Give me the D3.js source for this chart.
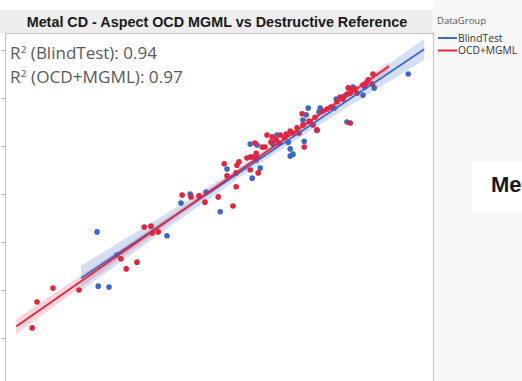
<!DOCTYPE html>
<html>
<head>
<meta charset="utf-8">
<script src="https://cdn.jsdelivr.net/npm/d3@7"></script>
<style>
  html, body { margin: 0; padding: 0; background: #ffffff; }
  svg { display: block; }
</style>
</head>
<body>
<div id="chart"></div>
<script>
// Metal CD: OCD MGML prediction (x) against destructive reference (y), nm
const groups = ["BlindTest", "OCD+MGML"];
const groupColors = ["#3b68c8", "#e2253f"];
const rSquared = ["0.94", "0.97"];
const yTicks = [19, 20, 21, 22, 23, 24, 25, 26];

const blindX = [22.30, 22.33, 22.60, 22.80, 24.05, 24.40, 24.63, 25.03, 25.38, 25.55,
  26.18, 26.13, 26.30, 26.13, 26.30, 26.70, 26.80, 27.08, 27.13, 27.20,
  27.13, 27.48, 27.45, 27.58, 27.53, 27.80, 27.85, 27.88, 28.23, 28.28,
  28.48, 28.55, 28.70, 28.95, 29.00, 29.23, 30.08, 26.38];
const blindY = [22.21, 21.08, 21.06, 21.73, 22.13, 22.81, 23.00, 23.04, 22.63, 23.52,
  23.33, 23.77, 23.77, 24.04, 24.02, 24.04, 24.23, 24.08, 23.94, 23.83,
  23.79, 24.10, 24.54, 24.79, 24.65, 24.33, 24.71, 24.79, 24.79, 24.98,
  25.04, 24.50, 25.23, 25.06, 25.23, 25.21, 25.50, 23.54];

const ocdX = [20.68, 20.80, 21.20, 21.85, 22.90, 23.03, 23.30, 23.48, 23.65, 23.68,
  23.83, 24.43, 24.65, 24.85, 25.00, 25.33, 25.70, 25.48, 25.80, 25.85,
  25.78, 25.78, 26.05, 26.13, 26.28, 26.33, 26.28, 26.50, 26.25, 26.55,
  26.43, 26.65, 26.78, 26.85, 26.88, 26.68, 26.98, 27.03, 27.13, 27.20,
  27.30, 27.35, 27.45, 27.48, 27.43, 27.60, 27.70, 27.75, 27.80, 27.95,
  28.05, 28.15, 28.30, 28.45, 28.55, 28.63, 28.58, 28.63, 28.68, 28.75,
  28.80, 28.95, 29.03, 29.08, 29.20, 29.18, 28.38, 27.63, 25.55, 26.18];
const ocdY = [20.21, 20.75, 21.04, 21.00, 21.65, 21.44, 21.58, 22.31, 22.33, 22.19,
  22.21, 22.98, 22.94, 22.96, 22.83, 22.94, 22.75, 23.63, 23.60, 23.67,
  23.44, 23.15, 23.75, 23.50, 23.71, 23.44, 23.85, 23.98, 24.06, 24.23,
  23.98, 24.08, 24.13, 24.06, 24.23, 24.19, 24.17, 24.25, 24.31, 24.27,
  24.38, 24.27, 24.44, 23.98, 24.67, 24.52, 24.44, 24.60, 24.33, 24.73,
  24.77, 24.81, 24.92, 24.98, 25.08, 24.48, 25.21, 25.10, 25.17, 25.19,
  25.10, 25.27, 25.31, 25.38, 25.50, 25.29, 25.02, 24.50, 23.38, 23.77];

const seriesX = [blindX, ocdX];
const seriesY = [blindY, ocdY];

const W = 522, H = 381;
const frame = { left: 5, top: 33, right: 433, bottom: 410 };

const svg = d3.select("#chart").append("svg")
  .attr("width", W).attr("height", H)
  .attr("viewBox", `0 0 ${W} ${H}`);

// Page backgrounds: legend side panel and title strip
svg.append("rect").attr("x", 434).attr("y", 0).attr("width", W - 434).attr("height", H)
  .attr("fill", "#f7f7f7");
svg.append("rect").attr("x", 0).attr("y", 10).attr("width", 433).attr("height", 23)
  .attr("fill", "#ededed");

const x = d3.scaleLinear().domain([20, 30.7]).range([frame.left, frame.right]);
const y = d3.scaleLinear().domain([18.5, 26.5]).range([frame.bottom, frame.bottom - 8 * 48]);

// Plot frame
svg.append("rect")
  .attr("x", frame.left + 0.5).attr("y", frame.top + 0.5)
  .attr("width", frame.right - frame.left).attr("height", frame.bottom - frame.top)
  .attr("fill", "#ffffff").attr("stroke", "#c4c4c4");

svg.append("clipPath").attr("id", "plotClip")
  .append("rect").attr("x", frame.left + 1).attr("y", frame.top + 1)
  .attr("width", frame.right - frame.left - 1).attr("height", frame.bottom - frame.top);

// Y axis tick marks (the tick labels sit beyond the page's left edge)
const yAxis = svg.append("g")
  .attr("transform", `translate(${frame.left + 0.5},0)`)
  .call(d3.axisLeft(y).tickValues(yTicks).tickSize(4).tickFormat(""));
yAxis.select(".domain").remove();
yAxis.selectAll(".tick line").attr("stroke", "#b0b0b0");

const plot = svg.append("g").attr("clip-path", "url(#plotClip)");

// Least-squares fit with 95% confidence band of the mean
function tQuantile(df) { return 1.96 + 2.4 / df + 2.9 / (df * df); }
function fitLine(xs, ys) {
  const n = xs.length;
  const mx = d3.mean(xs), my = d3.mean(ys);
  let sxx = 0, sxy = 0;
  for (let i = 0; i < n; i++) { sxx += (xs[i] - mx) ** 2; sxy += (xs[i] - mx) * (ys[i] - my); }
  const b = sxy / sxx, a = my - b * mx;
  let sse = 0;
  for (let i = 0; i < n; i++) sse += (ys[i] - (a + b * xs[i])) ** 2;
  const s = Math.sqrt(sse / (n - 2));
  const t = tQuantile(n - 2);
  const ext = 0.4;
  const x0 = d3.min(xs) - ext, x1 = d3.max(xs) + ext;
  return d3.range(0, 41).map(i => {
    const xv = x0 + (x1 - x0) * i / 40;
    const fit = a + b * xv;
    const hw = t * s * Math.sqrt(1 / n + (xv - mx) ** 2 / sxx);
    return { x: xv, y: fit, lo: fit - hw, hi: fit + hw };
  });
}

const fits = groups.map((g, i) => fitLine(seriesX[i], seriesY[i]));
const bandFill = ["rgba(90,130,210,0.26)", "rgba(232,70,95,0.22)"];

fits.forEach((pts, i) => {
  plot.append("path")
    .datum(pts)
    .attr("fill", bandFill[i])
    .attr("d", d3.area().x(d => x(d.x)).y0(d => y(d.lo)).y1(d => y(d.hi)));
});

// Points: BlindTest first, OCD+MGML drawn over it
groups.forEach((g, i) => {
  plot.append("g").selectAll("circle")
    .data(d3.range(seriesX[i].length))
    .join("circle")
    .attr("cx", k => x(seriesX[i][k]))
    .attr("cy", k => y(seriesY[i][k]))
    .attr("r", 2.8)
    .attr("fill", groupColors[i]);
});

fits.forEach((pts, i) => {
  plot.append("path")
    .datum(pts)
    .attr("fill", "none")
    .attr("stroke", groupColors[i])
    .attr("stroke-width", 1.8)
    .attr("d", d3.line().x(d => x(d.x)).y(d => y(d.y)));
});

// Title
const title = svg.append("text")
  .attr("x", 217).attr("y", 27)
  .attr("text-anchor", "middle")
  .attr("font-family", "'Liberation Sans', Arial, sans-serif")
  .attr("font-weight", "bold")
  .attr("font-size", 13)
  .attr("fill", "#1a1a1a")
  .text("Metal CD - Aspect OCD MGML vs Destructive Reference");
const tl = title.node().getComputedTextLength();
title.attr("font-size", 13 * 381 / tl);

// R² annotations
const rLabels = ["BlindTest", "OCD+MGML"];
const rWidths = [147, 173];
rLabels.forEach((lab, i) => {
  const t = svg.append("text")
    .attr("x", 10).attr("y", 59 + i * 24)
    .attr("font-family", "'Open Sans', 'Noto Sans', sans-serif")
    .attr("font-size", 15.5)
    .attr("fill", "#5a5a5a");
  t.append("tspan").text("R");
  t.append("tspan").attr("font-size", 9.5).attr("dy", -6).text("2");
  t.append("tspan").attr("dy", 6).text(` (${lab}): ${rSquared[i]}`);
  const w = t.node().getComputedTextLength();
  t.attr("transform", `translate(10,0) scale(${rWidths[i] / w},1) translate(-10,0)`);
});

// Legend
const legend = svg.append("g");
legend.append("text")
  .attr("x", 437).attr("y", 24)
  .attr("font-family", "'Open Sans', 'Noto Sans', sans-serif")
  .attr("font-size", 9.5).attr("fill", "#555")
  .text("DataGroup");
groups.forEach((g, i) => {
  const ly = 38 + i * 12.5;
  legend.append("line")
    .attr("x1", 438).attr("x2", 457).attr("y1", ly).attr("y2", ly)
    .attr("stroke", groupColors[i]).attr("stroke-width", 2);
  legend.append("text")
    .attr("x", 458).attr("y", ly + 3.5)
    .attr("font-family", "'Open Sans', 'Noto Sans', sans-serif")
    .attr("font-size", 10.3).attr("fill", "#333")
    .text(g);
});

// Neighbouring panel heading, cut at the page edge
svg.append("rect").attr("x", 472).attr("y", 162).attr("width", 60).attr("height", 49)
  .attr("fill", "#ffffff");
svg.append("text")
  .attr("x", 491).attr("y", 192)
  .attr("font-family", "'Liberation Sans', Arial, sans-serif")
  .attr("font-weight", "bold").attr("font-size", 22).attr("fill", "#1a1a1a")
  .text("Me");
</script>
</body>
</html>
